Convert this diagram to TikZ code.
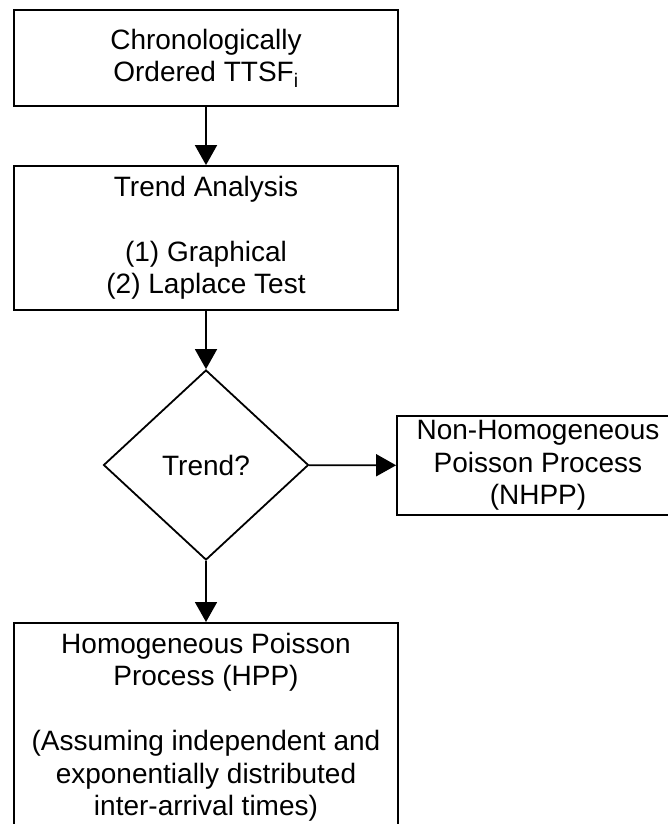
\documentclass[tikz,border=0pt]{standalone}
\usepackage{fontspec}
\setmainfont{Liberation Sans}
\usetikzlibrary{arrows.meta,shapes.geometric}
\begin{document}
\begin{tikzpicture}[x=1pt, y=-1pt,
  every node/.style={font=\fontsize{28}{32.5}\selectfont},
  blok/.style={draw, line width=1.8pt, align=center, inner sep=0pt, minimum width=384pt},
  flow/.style={line width=1.8pt, -{Triangle[length=20pt, width=22pt]}}]
\useasboundingbox (0,0) rectangle (668,824);
\clip (0,0) rectangle (668,824);
\node[blok, minimum height=96pt] (ttsf) at (206,58) {Chronologically\\Ordered TTSF\textsubscript{i}};
\node[blok, minimum height=144pt] (trend) at (206,238) {Trend Analysis\\[32.5pt](1) Graphical\\(2) Laplace Test};
\node[draw, line width=1.8pt, diamond, inner sep=0pt, aspect=1.08, minimum width=205pt, minimum height=190pt] (test) at (206,465) {Trend?};
\node[blok, minimum width=282pt, minimum height=99pt] (nhpp) at (538,465.5) {Non-Homogeneous\\Poisson Process\\(NHPP)};
\node[blok, anchor=north, inner ysep=10pt] (hpp) at (206,622) {Homogeneous Poisson\\Process (HPP)\\[32.5pt](Assuming independent and\\exponentially distributed\\inter-arrival times)};
\draw[flow] (ttsf) -- (trend);
\draw[flow] (trend) -- (test);
\draw[flow] (test) -- (nhpp);
\draw[flow] (test) -- (hpp);
\end{tikzpicture}
\end{document}
